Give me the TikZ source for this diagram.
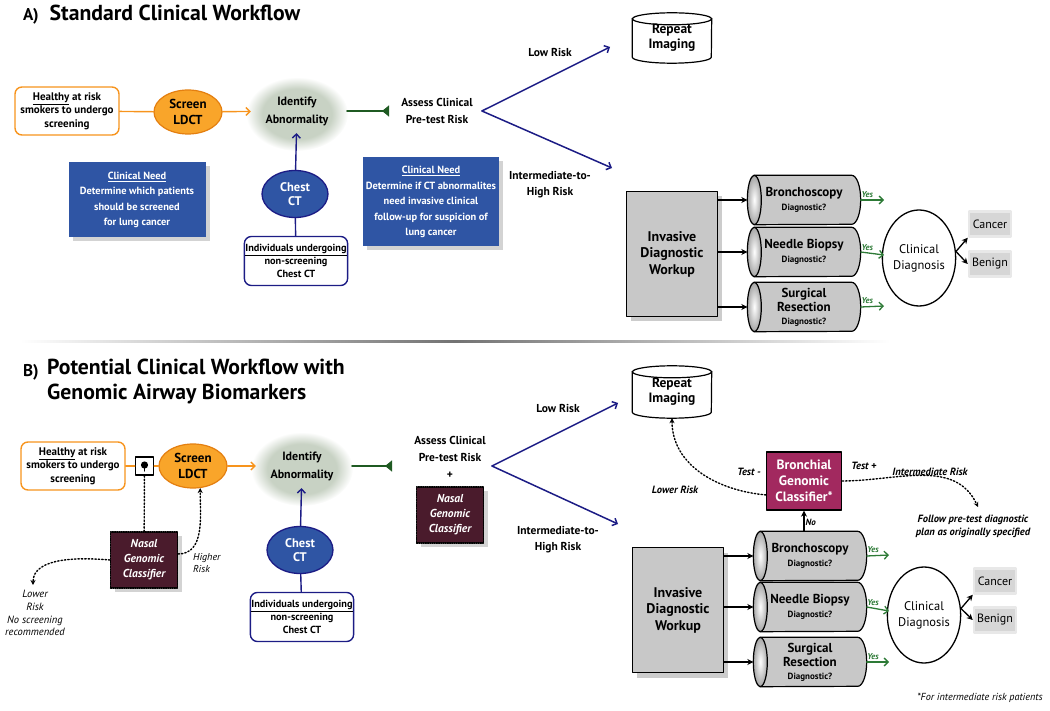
\documentclass[tikz,border=0pt]{standalone}
\usepackage{fontspec}
\setmainfont{PT Sans}
\usetikzlibrary{arrows.meta}
\usetikzlibrary{positioning}
\usetikzlibrary{shapes.geometric}
\usetikzlibrary{shadows}
\usetikzlibrary{calc}

\definecolor{lineorange}{HTML}{F7941D}
\definecolor{fillorange}{HTML}{F9A52A}
\definecolor{darkorange}{HTML}{E47F10}
\definecolor{glowgreen}{HTML}{C8D2C4}
\definecolor{forkblue}{HTML}{1C1C85}
\definecolor{needblue}{HTML}{2F55A4}
\definecolor{stopgreen}{HTML}{1F5A22}
\definecolor{yesgreen}{HTML}{2D7A36}
\definecolor{boxgray}{HTML}{C8C8C8}
\definecolor{softgray}{HTML}{D6D6D6}
\definecolor{nasalred}{HTML}{4A1B2C}
\definecolor{bronchred}{HTML}{A2295F}

\pgfdeclareradialshading{glowshade}{\pgfpoint{0bp}{0bp}}{color(0bp)=(glowgreen);color(17bp)=(glowgreen);color(25bp)=(white);color(50bp)=(white)}
\pgfdeclarelayer{background}
\pgfsetlayers{background,main}

\begin{document}
\begin{tikzpicture}[x=1pt,y=-1pt,line cap=round,line join=round,>={Straight Barb[length=4pt,width=8pt]},
  ttl/.style={font=\fontsize{21.7}{25}\selectfont\bfseries,inner sep=0pt},
  txt/.style={font=\fontsize{11}{13.3}\selectfont\bfseries,align=center,inner sep=1pt},
  big/.style={font=\fontsize{12}{15}\selectfont\bfseries,align=center,inner sep=1pt},
  emph/.style={font=\fontsize{10.5}{13}\selectfont\bfseries\itshape,align=center,inner sep=1pt},
  healthy/.style={txt,draw=lineorange,fill=white,line width=1.4pt,rounded corners=7pt,minimum width=104pt,minimum height=48pt},
  screen/.style={ellipse,big,fill=fillorange,draw=darkorange,line width=1.2pt,minimum width=68pt,minimum height=44pt,font=\fontsize{13}{15.5}\selectfont\bfseries},
  ident/.style={ellipse,big,minimum width=84pt,minimum height=40pt,font=\fontsize{12}{18}\selectfont\bfseries},
  need/.style={txt,fill=needblue,text=white,font=\fontsize{10.4}{15.5}\selectfont\bfseries,drop shadow={shadow xshift=4pt,shadow yshift=-4pt,opacity=.35}},
  chest/.style={ellipse,big,fill=needblue,draw=forkblue,line width=1.3pt,text=white,minimum width=66pt,minimum height=47pt,font=\fontsize{12.5}{14}\selectfont\bfseries},
  indiv/.style={txt,draw=forkblue,fill=white,line width=1.4pt,rounded corners=7pt,minimum width=103pt,minimum height=49pt,font=\fontsize{10.3}{13.3}\selectfont\bfseries},
  storenode/.style={big,font=\fontsize{13.5}{15}\selectfont\bfseries,minimum width=79pt,minimum height=50pt,inner sep=0pt},
  workup/.style={big,fill=boxgray,draw=black,line width=1.3pt,minimum width=91pt,minimum height=125pt,font=\fontsize{14}{16.5}\selectfont\bfseries,drop shadow={shadow xshift=4pt,shadow yshift=-5pt,opacity=.4}},
  cylnode/.style={big,font=\fontsize{13}{15.5}\selectfont\bfseries,minimum width=113pt,minimum height=49pt,inner sep=0pt},
  cylline/.style={draw=black,line width=1.2pt},
  diag/.style={ellipse,draw=black,line width=1.3pt,fill=white,align=center,font=\fontsize{12.5}{16}\selectfont,minimum width=67pt,minimum height=96pt,inner sep=0pt},
  result/.style={fill=softgray,draw=softgray!55,line width=2.5pt,font=\fontsize{12}{13}\selectfont,minimum width=42pt,minimum height=25pt,inner sep=0pt},
  classif/.style={fill=nasalred,draw=black,densely dotted,line width=1.2pt,text=white,align=center,font=\fontsize{11.5}{15}\selectfont\bfseries\itshape,minimum width=67pt,minimum height=56pt,inner sep=0pt,drop shadow={shadow xshift=4pt,shadow yshift=-4pt,opacity=.35}},
  bronch/.style={fill=bronchred,draw=black,line width=1.4pt,text=white,align=center,font=\fontsize{13.5}{16}\selectfont\bfseries,minimum width=75pt,minimum height=58pt,inner sep=0pt},
  small/.style={font=\fontsize{9}{10}\selectfont\bfseries},
  yeslab/.style={font=\fontsize{8.5}{9}\selectfont\bfseries\itshape,above,pos=.28,inner sep=2pt},
  orangearr/.style={line width=1.4pt,color=lineorange},
  forkarr/.style={line width=1.5pt,color=forkblue},
  stoparr/.style={-{Triangle[reversed,length=7pt,width=11pt]},line width=1.8pt,color=stopgreen},
  blackarr/.style={-{Stealth[length=6pt,width=6pt]},line width=1.3pt},
  yesarr/.style={->,line width=1.3pt,color=yesgreen},
  dotarr/.style={-{Stealth[length=5pt,width=5pt]},dotted,line width=1.4pt}]
\useasboundingbox (0,0) rectangle (1050,711);

% A) standard workflow
\node[ttl,anchor=base west] (ttlA) at (23,21) {{\fontsize{17}{17}\selectfont A)}\ \ Standard Clinical Workflow};

\shade[shading=glowshade] (297,114) ellipse (51 and 37);
\node[healthy] (hlA) at (67,111) {\underline{Healthy} at risk\\smokers to undergo\\screening};
\node[screen] (scrA) at (188,112) {Screen\\LDCT};
\node[ident] (idA) at (297,111) {Identify\\Abnormality};
\node[big,font=\fontsize{11.5}{17}\selectfont\bfseries] (assA) at (437,111) {Assess Clinical\\Pre-test Risk};
\node[storenode] (repA) at (672,38) {Repeat\\Imaging};
\node[big,font=\fontsize{11.5}{16}\selectfont\bfseries] (lowA) at (550,52) {Low Risk};
\node[big,font=\fontsize{11.5}{16}\selectfont\bfseries] (intA) at (550,185) {Intermediate-to-\\High Risk};
\coordinate (lowtipA) at (610,47);
\coordinate (hightipA) at (612,168);
\node[need,minimum width=137pt,minimum height=75pt] (needA1) at (137,200) {\underline{Clinical Need}\\Determine which patients\\should be screened\\for lung cancer};
\node[need,minimum width=136pt,minimum height=89pt] (needA2) at (431,202) {\underline{Clinical Need}\\Determine if CT abnormalites\\need invasive clinical\\follow-up for suspicion of\\lung cancer};
\node[chest] (chA) at (295,194) {Chest\\CT};
\node[indiv] (indA) at (296,261) {\underline{Individuals undergoing}\\non-screening\\Chest CT};

\node[workup] (invA) at (672,254) {Invasive\\Diagnostic\\Workup};
\node[cylnode] (bronA) at (804,200) {Bronchoscopy\\[-2pt]{\small Diagnostic?}};
\node[cylnode] (needlA) at (804,252) {Needle Biopsy\\[-2pt]{\small Diagnostic?}};
\node[cylnode] (surgA) at (804,307) {Surgical\\[-1pt]Resection\\[-3pt]{\small Diagnostic?}};
\node[diag] (cdA) at (919,258) {Clinical\\Diagnosis};
\node[result] (cancA) at (990,224) {Cancer};
\node[result] (benA) at (990,264) {Benign};
\coordinate (ybA) at (884,200);
\coordinate (ynA) at (884,255);
\coordinate (ysA) at (884,306);

\draw[orangearr] (hlA) -- (scrA);
\draw[orangearr,->] (scrA) -- (idA);
\draw[forkblue,line width=1.4pt,->] (chA) -- (idA);
\draw[forkblue,line width=1.4pt] (chA) -- (indA);
\draw[stoparr,shorten <=4pt,shorten >=11pt] (idA.east) -- (assA.west);
\draw[forkarr,->] ($(assA.east)+(8,0)$) -- (lowtipA);
\draw[forkarr,->] ($(assA.east)+(8,0)$) -- (hightipA);
\path[blackarr] (invA.east |- bronA) edge (bronA.west) (invA.east |- needlA) edge (needlA.west) (invA.east |- surgA) edge (surgA.west);
\draw[yesarr] (bronA.east) -- node[yeslab] {Yes} (ybA);
\draw[yesarr] (needlA.east) -- node[yeslab] {Yes} (ynA);
\draw[yesarr] (surgA.east) -- node[yeslab] {Yes} (ysA);
\draw[blackarr] (cdA.10) -- (cancA.south west);
\draw[blackarr] (cdA.10) -- (benA.west);

\shade[left color=white,right color=white,middle color=black!55] (20,340.5) rectangle (890,343);

% B) workflow with genomic biomarkers
\node[ttl,anchor=base west] (ttlB) at (23,377) {\fontsize{17}{17}\selectfont B)};
\node[ttl,anchor=north west,align=left] (ttlB2) at (47,359) {Potential Clinical Workflow with\\Genomic Airway Biomarkers};

\shade[shading=glowshade] (302,469) ellipse (51 and 37);
\node[healthy] (hlB) at (73,466) {\underline{Healthy} at risk\\smokers to undergo\\screening};
\node[draw=black,fill=white,line width=1.5pt,minimum size=18pt,inner sep=0pt] (sqB) at (144.5,466) {};
\fill (144.5,465) circle (3.6pt);
\draw[line width=1.2pt] (144.5,465) -- (144.5,471);
\node[screen] (scrB) at (193,466) {Screen\\LDCT};
\node[ident] (idB) at (302,466) {Identify\\Abnormality};
\node[chest] (chB) at (300,550) {Chest\\CT};
\node[indiv] (indB) at (302,617) {\underline{Individuals undergoing}\\non-screening\\Chest CT};
\node[classif] (nasB1) at (144,560) {Nasal\\Genomic\\Classifier};
\node[font=\fontsize{10}{12}\selectfont\itshape,align=left,anchor=west,inner sep=0pt] (hrB) at (193,563) {Higher\\Risk};
\node[font=\fontsize{10.5}{12.8}\selectfont\itshape,align=center,inner sep=0pt] (lrB) at (35,613) {Lower\\Risk\\No screening\\recommended};
\coordinate (lowtipB1) at (33,585);

\node[big,font=\fontsize{11.5}{17}\selectfont\bfseries] (assB) at (450,457) {Assess Clinical\\Pre-test Risk\\+};
\node[classif] (nasB2) at (450,515) {Nasal\\Genomic\\Classifier};
\node[storenode,minimum height=52pt] (repB) at (672,392) {Repeat\\Imaging};
\node[big,font=\fontsize{11.5}{16}\selectfont\bfseries] (lowB) at (558,408) {Low Risk};
\node[big,font=\fontsize{11.5}{16}\selectfont\bfseries] (intB) at (558,540) {Intermediate-to-\\High Risk};
\coordinate (lowtipB) at (618,403);
\coordinate (hightipB) at (618,524);

\node[workup] (invB) at (678,610) {Invasive\\Diagnostic\\Workup};
\node[cylnode] (bronB) at (810,556) {Bronchoscopy\\[-2pt]{\small Diagnostic?}};
\node[cylnode] (needlB) at (810,607) {Needle Biopsy\\[-2pt]{\small Diagnostic?}};
\node[cylnode] (surgB) at (810,662) {Surgical\\[-1pt]Resection\\[-3pt]{\small Diagnostic?}};
\node[diag] (cdB) at (924,615) {Clinical\\Diagnosis};
\node[result] (cancB) at (995,581) {Cancer};
\node[result] (benB) at (995,620) {Benign};
\coordinate (ybB) at (889,555);
\coordinate (ynB) at (889,611);
\coordinate (ysB) at (889,662);

\node[bronch] (bgcB) at (804,481) {Bronchial\\Genomic\\Classifier*};
\node[emph] (tmB) at (749,472) {Test -};
\node[emph] (tpB) at (864,466) {Test +};
\node[emph] (lwB) at (675,490) {Lower Risk};
\node[emph] (imB) at (930,472) {Intermediate Risk};
\node[emph] (flB) at (973,526) {Follow pre-test diagnostic\\plan as originally specified};
\node[font=\fontsize{10.2}{11}\selectfont\itshape,inner sep=0pt] (fnB) at (980,698) {*For intermediate risk patients};
\coordinate (followtip) at (978,507);

\draw[orangearr] (hlB) -- (sqB) -- (scrB);
\draw[orangearr,->] (scrB) -- (idB);
\draw[forkblue,line width=1.4pt,->] (chB) -- (idB);
\draw[forkblue,line width=1.4pt] (chB) -- (indB);
\draw[dotted,line width=1.4pt] (sqB) -- (nasB1);
\draw[dotarr] (nasB1.10) to[out=0,in=-90] (scrB.-72);
\draw[dotarr] (nasB1.west) to[out=175,in=90,looseness=.9] (lowtipB1);
\draw[stoparr,shorten <=4pt,shorten >=21pt] (idB.east) -- (assB.west |- idB);
\draw[forkarr,->] ($(assB.east |- idB)+(5,0)$) -- (lowtipB);
\draw[forkarr,->] ($(assB.east |- idB)+(5,0)$) -- (hightipB);
\path[blackarr] (invB.east |- bronB) edge (bronB.west) (invB.east |- needlB) edge (needlB.west) (invB.east |- surgB) edge (surgB.west);
\draw[yesarr] (bronB.east) -- node[yeslab] {Yes} (ybB);
\draw[yesarr] (needlB.east) -- node[yeslab] {Yes} (ynB);
\draw[yesarr] (surgB.east) -- node[yeslab] {Yes} (ysB);
\draw[blackarr] (cdB.10) -- (cancB.south west);
\draw[blackarr] (cdB.10) -- (benB.west);
\draw[blackarr,line width=1.2pt] (bronB.north -| bgcB) -- node[emph,right,pos=.45,font=\fontsize{9}{10}\selectfont\bfseries\itshape] {No} (bgcB.south);
\draw[dotarr] (bgcB.-160) to[out=175,in=-90] (repB.south);
\draw[dotarr] (bgcB.east) to[out=0,in=115] (followtip);

% cylinder outlines behind the texts
\begin{pgfonlayer}{background}
\foreach \c in {bronA,needlA,surgA,bronB,needlB,surgB}{
  \draw[cylline,fill=boxgray] ($(\c.north west)+(7,0)$) -- ($(\c.north east)+(-9,0)$) arc[start angle=-90,end angle=90,x radius=9,y radius=24.5] -- ($(\c.south west)+(7,0)$) -- cycle;
  \draw[cylline,inner color=white,outer color=black!35] ($(\c.west)+(7,0)$) ellipse[x radius=7,y radius=24.5];
}
\foreach \c in {repA,repB}{
  \draw[cylline,fill=white] ($(\c.north west)+(0,6)$) -- ($(\c.south west)+(0,-6)$) arc[start angle=180,end angle=0,x radius=39.5,y radius=6] -- ($(\c.north east)+(0,6)$) -- cycle;
  \draw[cylline,fill=white] ($(\c.north)+(0,6)$) ellipse[x radius=39.5,y radius=6];
}
\end{pgfonlayer}
\end{tikzpicture}
\end{document}
